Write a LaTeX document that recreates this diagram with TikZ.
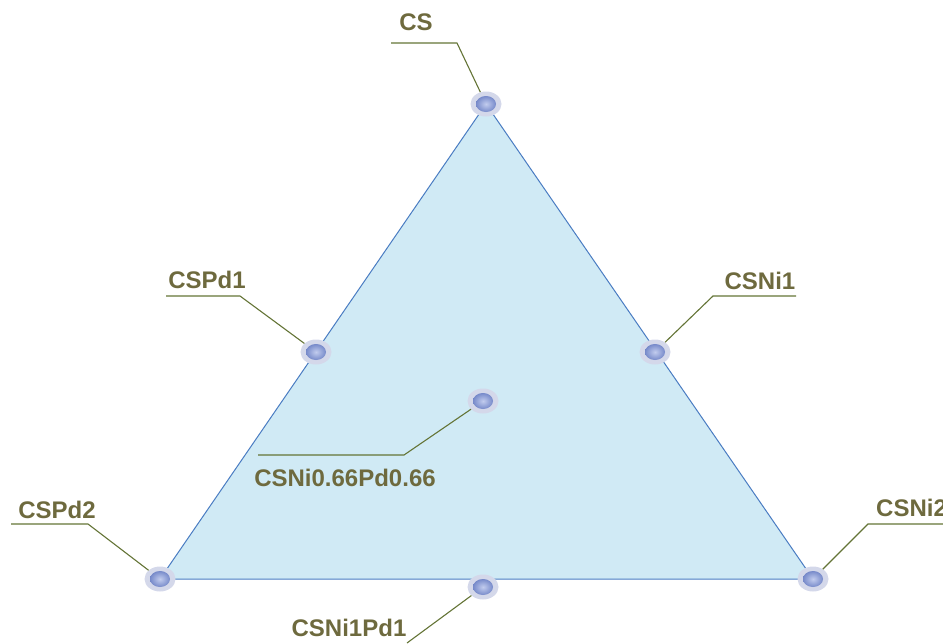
\documentclass[tikz,border=0pt]{standalone}
\usepackage{fontspec}
\setmainfont{Liberation Sans}
\usetikzlibrary{shapes.geometric}
\definecolor{fillblue}{HTML}{D0EAF5}
\definecolor{edgeblue}{HTML}{4A7CC2}
\definecolor{halo}{HTML}{D4D8EA}
\definecolor{dotblue}{HTML}{4E66B6}
\definecolor{dotlight}{HTML}{C2CCEE}
\definecolor{leadgreen}{HTML}{647436}
\definecolor{labeltext}{HTML}{6E6A3E}
\tikzset{
  site/.style={ellipse, fill=halo, inner sep=0pt, minimum width=31pt, minimum height=25pt,
    path picture={\shade[inner color=dotlight, outer color=dotblue]
      (path picture bounding box.center) ellipse [x radius=10pt, y radius=8pt];}},
  leader/.style={draw=leadgreen, line width=1.1pt},
  tag/.style={text=labeltext, font=\bfseries\fontsize{24}{26}\selectfont, inner sep=0pt},
}
\begin{document}
\begin{tikzpicture}[x=1pt,y=-1pt]
\useasboundingbox (0,0) rectangle (943,643);
\clip (0,0) rectangle (943,643);

% triangle corners
\coordinate (vtop) at (486,104);
\coordinate (vleft) at (160,579);
\coordinate (vright) at (813,579);
\fill[fillblue] (vtop) -- (vleft) -- (vright) -- cycle;
\draw[edgeblue, line width=1pt, line join=round] (vtop) -- (vleft) -- (vright) -- cycle;

% composition sites
\node[site] (cs)    at (vtop) {};
\node[site] (cspd1) at (316,352) {};
\node[site] (csni1) at (655,352) {};
\node[site] (cmix)  at (483,401) {};
\node[site] (cspd2) at (vleft) {};
\node[site] (csni2) at (vright) {};
\node[site] (cnipd) at (483,587) {};

% labels
\node[tag] (lcs)    at (416,22)  {CS};
\node[tag] (lcspd1) at (207,280) {CSPd1};
\node[tag] (lcsni1) at (760,281) {CSNi1};
\node[tag] (lcmix)  at (345,478) {CSNi0.66Pd0.66};
\node[tag] (lcspd2) at (57,510)  {CSPd2};
\node[tag, anchor=west] (lcsni2) at (876,508) {CSNi2};
\node[tag] (lcnipd) at (349,628) {CSNi1Pd1};

% leader lines
\coordinate (bcs) at (457,43);   \coordinate (ecs) at (391,43);
\coordinate (bpd1) at (240,296); \coordinate (epd1) at (166,296);
\coordinate (bni1) at (713,296); \coordinate (eni1) at (796,296);
\coordinate (bmix) at (404,455); \coordinate (emix) at (258,455);
\coordinate (bpd2) at (88,524);  \coordinate (epd2) at (11,524);
\coordinate (bni2) at (868,524); \coordinate (eni2) at (943,524);
\coordinate (enipd) at (407,643);

\draw[leader] (cs) -- (bcs) -- (ecs);
\draw[leader] (cspd1) -- (bpd1) -- (epd1);
\draw[leader] (csni1) -- (bni1) -- (eni1);
\draw[leader] (cmix) -- (bmix) -- (emix);
\draw[leader] (cspd2) -- (bpd2) -- (epd2);
\draw[leader] (csni2) -- (bni2) -- (eni2);
\draw[leader] (cnipd) -- (enipd);
\end{tikzpicture}
\end{document}
